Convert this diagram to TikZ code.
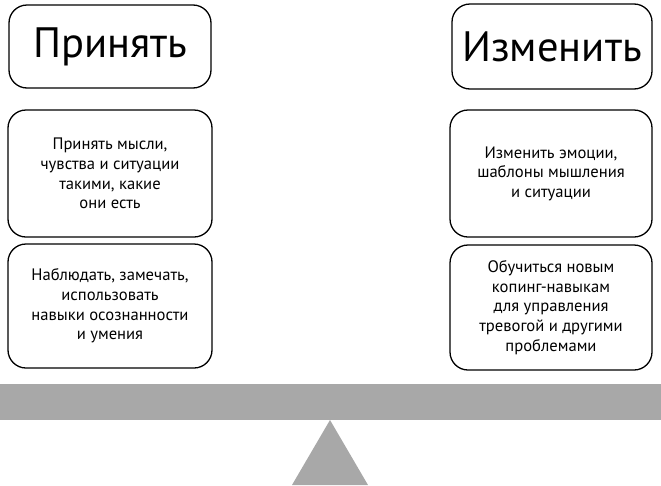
\documentclass[tikz,border=0pt]{standalone}
\usepackage{fontspec}
\setmainfont{PT Sans}
\definecolor{beamgray}{RGB}{168,168,168}
\tikzset{
  box/.style={draw=black, line width=1.3pt, rounded corners=18pt, align=center, inner sep=0pt},
  titlebox/.style={box, font=\fontsize{42.5}{50}\selectfont},
  textbox/.style={box, font=\fontsize{16.6}{19.6}\selectfont}
}
\begin{document}
\begin{tikzpicture}[x=1pt,y=-1pt]
\useasboundingbox (0,0) rectangle (661,485);
\node[titlebox, minimum width=202pt, minimum height=83pt] (acc) at (110,46.5) {Принять};
\node[titlebox, minimum width=200pt, minimum height=85pt] (chg) at (552,46.5) {Изменить};
\node[textbox, minimum width=204pt, minimum height=127pt] (acc1) at (110,173.5) {Принять мысли,\\чувства и ситуации\\такими, какие\\они есть};
\node[textbox, minimum width=204pt, minimum height=124pt] (acc2) at (110,306) {Наблюдать, замечать,\\использовать\\навыки осознанности\\и умения};
\node[textbox, minimum width=202pt, minimum height=127pt] (chg1) at (551,173.5) {Изменить эмоции,\\шаблоны мышления\\и ситуации};
\node[textbox, minimum width=202pt, minimum height=125pt] (chg2) at (551,307.5) {Обучиться новым\\копинг-навыкам\\для управления\\тревогой и другими\\проблемами};
\fill[beamgray] (0,384) rectangle (661,420);
\fill[beamgray] (330,420) -- (292,485) -- (368,485) -- cycle;
\end{tikzpicture}
\end{document}
